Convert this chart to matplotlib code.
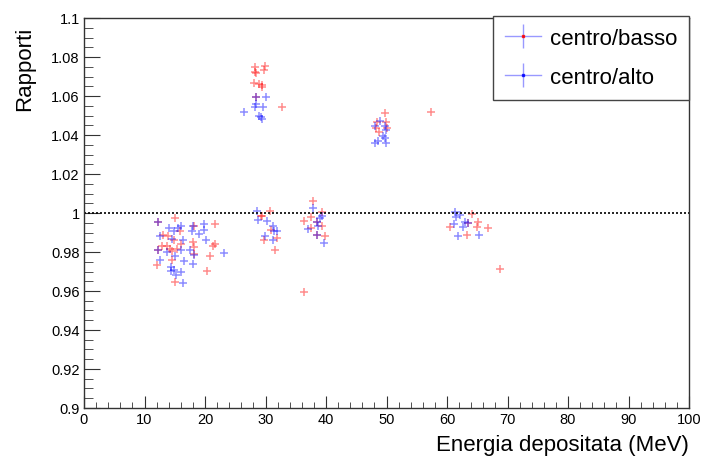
import numpy as np
import matplotlib
matplotlib.use('Agg')
import matplotlib.pyplot as plt
from matplotlib.lines import Line2D
from matplotlib.ticker import MultipleLocator, FormatStrFormatter

params={
'font.family': ['Liberation Sans', 'DejaVu Sans'],
'font.size': 10.5,
}
matplotlib.rcParams.update(params)

# centro/basso (red)
basso_E=[15.0, 15.8, 13.1, 13.9, 14.8, 18.2, 21.7, 21.4, 21.7, 20.9, 20.3, 16.0, 14.2, 13.8,
         14.5, 15.3, 18.0, 18.1, 18.1, 14.5, 12.0, 15.1, 12.3, 12.3, 12.9,
         28.3, 29.9, 29.8, 28.5, 28.3, 28.1, 29.0, 29.5, 29.4, 28.5, 32.8,
         29.2, 29.5, 30.7, 30.9, 29.8, 31.9, 31.6,
         37.9, 39.3, 37.5, 36.4, 38.5, 37.6, 39.3, 38.5, 39.8, 36.4,
         49.8, 57.4, 48.4, 49.9, 50.0, 48.3, 48.8,
         64.1, 60.5, 63.4, 65.1, 64.9, 66.8, 63.3, 68.8]
basso_R=[0.9973, 0.9906, 0.9887, 0.9881, 0.9862, 0.9935, 0.9945, 0.9832, 0.9840, 0.9779, 0.9703, 0.9843, 0.9815, 0.9829,
         0.9804, 0.9815, 0.9850, 0.9824, 0.9790, 0.9761, 0.9733, 0.9645, 0.9955, 0.9812, 0.9830,
         1.0749, 1.0755, 1.0733, 1.0716, 1.0723, 1.0665, 1.0662, 1.0656, 1.0645, 1.0596, 1.0542,
         0.9986, 0.9983, 1.0012, 0.9914, 0.9863, 0.9870, 0.9810,
         1.0060, 1.0004, 0.9981, 0.9961, 0.9955, 0.9923, 0.9935, 0.9889, 0.9884, 0.9596,
         1.0511, 1.0520, 1.0468, 1.0465, 1.0434, 1.0434, 1.0414,
         0.9995, 0.9930, 0.9947, 0.9952, 0.9930, 0.9922, 0.9889, 0.9713]

# centro/alto (blue)
alto_E=[12.3, 14.1, 16.1, 14.9, 15.6, 12.6, 14.5, 17.8, 18.0, 19.8, 19.8, 19.0, 20.1, 23.1,
        16.4, 13.7, 16.1, 17.5, 18.1, 15.0, 16.6, 18.0, 12.6, 14.4, 14.3, 14.8, 16.1, 15.2, 16.4, 12.3,
        28.5, 30.0, 28.4, 28.3, 29.6, 26.5, 29.0, 29.4, 29.2,
        28.6, 28.8, 30.3, 31.3, 31.4, 31.9, 29.9, 31.3,
        37.9, 39.3, 39.0, 38.5, 38.6, 37.0, 38.5, 39.7,
        49.0, 48.1, 49.8, 49.9, 49.4, 49.8, 48.6, 48.1, 49.9,
        61.3, 61.5, 62.1, 61.2, 63.0, 63.4, 62.7, 61.9, 65.3]
alto_R=[0.9955, 0.9922, 0.9935, 0.9906, 0.9922, 0.9884, 0.9867, 0.9908, 0.9935, 0.9944, 0.9914, 0.9891, 0.9860, 0.9795,
        0.9860, 0.9798, 0.9812, 0.9812, 0.9785, 0.9781, 0.9752, 0.9738, 0.9761, 0.9722, 0.9704, 0.9709, 0.9699, 0.9682, 0.9640, 0.9812,
        1.0593, 1.0593, 1.0559, 1.0542, 1.0542, 1.0516, 1.0499, 1.0482, 1.0491,
        1.0009, 0.9966, 0.9960, 0.9935, 0.9909, 0.9909, 0.9884, 0.9863,
        1.0024, 0.9986, 0.9973, 0.9955, 0.9932, 0.9918, 0.9889, 0.9846,
        1.0470, 1.0448, 1.0448, 1.0427, 1.0396, 1.0383, 1.0371, 1.0359, 1.0359,
        1.0004, 0.9978, 0.9990, 0.9944, 0.9952, 0.9947, 0.9930, 0.9884, 0.9889]

red=(1, 0, 0, 0.45)
blue=(0, 0, 1, 0.45)

fig=plt.figure(figsize=(7.05, 4.6), dpi=100)
ax=fig.add_axes([84/705, 51/460, 605/705, 390/460])

ax.plot(basso_E, basso_R, ls='none', marker='+', ms=5.8, mew=1.1, color=red)
ax.plot(alto_E, alto_R, ls='none', marker='+', ms=5.8, mew=1.1, color=blue)
ax.axhline(1, color='k', lw=1.2, ls=(0, (1.2, 1.2)))

ax.set_xlim(0, 100)
ax.set_ylim(0.9, 1.1)
ax.xaxis.set_major_locator(MultipleLocator(10))
ax.xaxis.set_minor_locator(MultipleLocator(2))
ax.yaxis.set_major_locator(MultipleLocator(0.02))
ax.yaxis.set_minor_locator(MultipleLocator(0.005))
ax.yaxis.set_major_formatter(FormatStrFormatter('%g'))
ax.tick_params(which='both', direction='in', top=False, right=False, color='#333333', labelsize=10.5, pad=3)
ax.tick_params(axis='x', which='major', length=9)
ax.tick_params(axis='x', which='minor', length=4.5)
ax.tick_params(axis='y', which='major', length=11.5)
ax.tick_params(axis='y', which='minor', length=6.5)
for s in ax.spines.values():
        s.set_color('#333333')
        s.set_linewidth(1)

fig.text(25/705, 1-27/460, 'Rapporti', rotation=90, ha='center', va='top', fontsize=16)
fig.text(689/705, 1-451/460, 'Energia depositata (MeV)', ha='right', va='baseline', fontsize=16)

legline=(0, 0, 1, 0.4)
h1=(Line2D([], [], color=legline, lw=1, marker='|', ms=17, mew=1, mec=legline),
    Line2D([], [], ls='none', marker='s', ms=1.8, color=(1, 0, 0, 0.8)))
h2=(Line2D([], [], color=legline, lw=1, marker='|', ms=17, mew=1, mec=legline),
    Line2D([], [], ls='none', marker='s', ms=1.8, color=(0, 0, 1, 0.8)))
leg=ax.legend([h1, h2], ['centro/basso', 'centro/alto'], loc='upper left',
              bbox_to_anchor=(493/705, 1-17/460), bbox_transform=fig.transFigure,
              fontsize=16, fancybox=False, framealpha=1, edgecolor='#444444',
              handlelength=1.6, handletextpad=0.4, labelspacing=0.8, borderpad=0.55,
              borderaxespad=0)
leg.get_frame().set_linewidth(1)

plt.savefig('out.png', dpi=100)
